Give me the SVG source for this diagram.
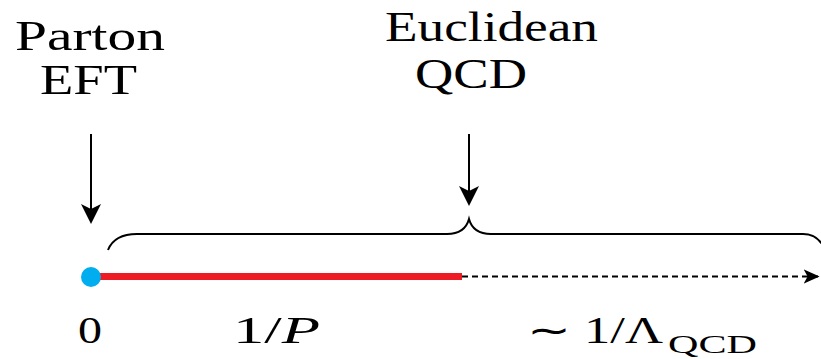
<svg xmlns="http://www.w3.org/2000/svg" width="821" height="359" viewBox="0 0 821 359">
<style>
.lbl{font-family:"Liberation Serif","Times New Roman",serif;fill:#000;}
.big{font-size:43px;}
.math{font-size:37px;}
.it{font-style:italic;}
.sub{font-size:25px;}
.ln{stroke:#000;stroke-width:2;fill:none;}
</style>
<defs>
<marker id="ah" viewBox="0 0 20 22" refX="18" refY="11" markerWidth="20" markerHeight="22" markerUnits="userSpaceOnUse" orient="auto">
<path d="M0,1 L20,11 L0,21 L5,11 Z" fill="#000"/>
</marker>
<marker id="ahs" viewBox="0 0 20 20" refX="18" refY="10" markerWidth="16" markerHeight="16" markerUnits="userSpaceOnUse" orient="auto">
<path d="M0,1 L20,10 L0,19 L5,10 Z" fill="#000"/>
</marker>
</defs>
<g id="label-parton">
<text class="lbl big" x="15" y="50" textLength="150" lengthAdjust="spacingAndGlyphs">Parton</text>
<text class="lbl big" x="40" y="94" textLength="97" lengthAdjust="spacingAndGlyphs">EFT</text>
</g>
<g id="label-euclidean">
<text class="lbl big" x="385" y="41" textLength="213" lengthAdjust="spacingAndGlyphs">Euclidean</text>
<text class="lbl big" x="415" y="88" textLength="112" lengthAdjust="spacingAndGlyphs">QCD</text>
</g>
<g id="connectors">
<line class="ln" x1="91" y1="134" x2="91" y2="222" marker-end="url(#ah)"/>
<line class="ln" x1="469" y1="134" x2="469" y2="204" marker-end="url(#ah)"/>
<path id="brace" class="ln" d="M108,250 C112,240 122,234 137,234 L447,234 C458,234 466,230 469,219 C472,230 480,234 491,234 L803,234 C812,234 818,238 822,244"/>
<line x1="462" y1="276.5" x2="818" y2="276.5" stroke="#000" stroke-width="2" stroke-dasharray="6 4" marker-end="url(#ahs)"/>
<line x1="91" y1="276.5" x2="462" y2="276.5" stroke="#ED1C24" stroke-width="7"/>
</g>
<g id="origin">
<circle cx="91" cy="277" r="10" fill="#00AEEF"/>
</g>
<g id="axis-labels">
<text class="lbl math" x="78" y="343" textLength="24" lengthAdjust="spacingAndGlyphs">0</text>
<text class="lbl math" x="233" y="343" textLength="87" lengthAdjust="spacingAndGlyphs">1/<tspan class="it">P</tspan></text>
<text class="lbl math" x="527" y="343" textLength="136" lengthAdjust="spacingAndGlyphs">∼ 1/Λ</text>
<text class="lbl sub" x="668" y="353" textLength="89" lengthAdjust="spacingAndGlyphs">QCD</text>
</g>
</svg>
